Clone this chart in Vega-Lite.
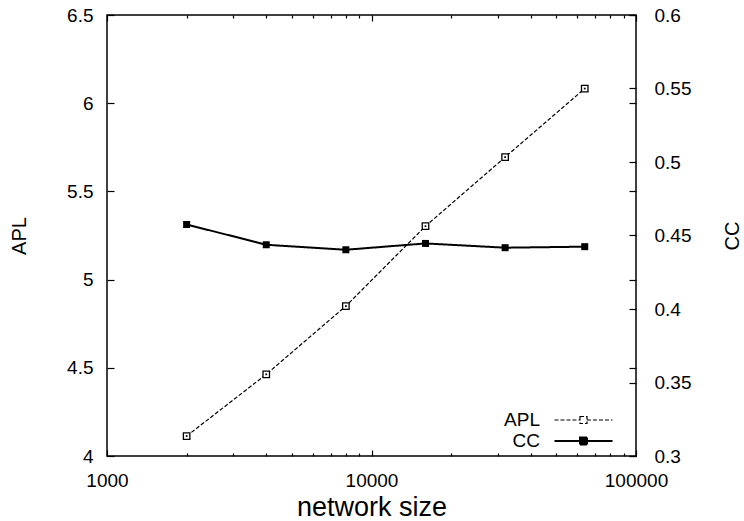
{
  "$schema": "https://vega.github.io/schema/vega-lite/v6.json",
  "width": 529,
  "height": 441,
  "autosize": "none",
  "padding": {"left": 107, "top": 15, "right": 108, "bottom": 65},
  "background": "white",
  "config": {
    "font": "Liberation Sans",
    "view": {"stroke": "black", "strokeWidth": 1.5},
    "axis": {"grid": false, "domain": false, "labelFlush": false, "tickColor": "black", "tickWidth": 1.2, "labelColor": "black", "titleColor": "black", "labelFontSize": 19, "titleFontSize": 20, "titleFontWeight": "normal", "labelFont": "Liberation Sans", "titleFont": "Liberation Sans"},
    "legend": {
      "orient": "none", "legendX": 467, "legendY": 395.5, "title": null, "padding": 0,
      "symbolType": "M-5.8,0H-0.7M0.7,0H5.8M-0.7,-0.7H0.7V0.7H-0.7Z",
      "symbolSize": 100, "symbolStrokeColor": "black", "symbolStrokeWidth": 1.2,
      "labelFontSize": 19, "labelFont": "Liberation Sans", "labelColor": "black", "labelAlign": "right", "labelOffset": -53, "rowPadding": 1
    }
  },
  "data": {
    "values": [
      {"size": 2000, "series": "APL", "value": 4.113},
      {"size": 4000, "series": "APL", "value": 4.463},
      {"size": 8000, "series": "APL", "value": 4.85},
      {"size": 16000, "series": "APL", "value": 5.303},
      {"size": 32000, "series": "APL", "value": 5.694},
      {"size": 64000, "series": "APL", "value": 6.083},
      {"size": 2000, "series": "CC", "value": 0.4575},
      {"size": 4000, "series": "CC", "value": 0.4437},
      {"size": 8000, "series": "CC", "value": 0.4403},
      {"size": 16000, "series": "CC", "value": 0.4446},
      {"size": 32000, "series": "CC", "value": 0.4417},
      {"size": 64000, "series": "CC", "value": 0.4424}
    ]
  },
  "layer": [
    {
      "transform": [{"filter": "datum.series === 'APL'"}],
      "layer": [
        {
          "mark": {"type": "line", "color": "black", "strokeWidth": 1.2},
          "encoding": {
            "x": {"field": "size", "type": "quantitative", "scale": {"type": "log", "domain": [1000, 100000], "nice": false},
              "axis": {"orient": "bottom", "values": [1000, 10000, 100000], "format": "d", "tickSize": -6, "labelPadding": 21, "title": "network size", "titleFontSize": 27, "titlePadding": 4}},
            "y": {"field": "value", "type": "quantitative", "scale": {"domain": [4, 6.5], "nice": false, "zero": false},
              "axis": {"orient": "left", "values": [4, 4.5, 5, 5.5, 6, 6.5], "format": ".2~f", "tickSize": -7, "labelPadding": 21, "title": "APL", "titlePadding": 37}},
            "strokeDash": {"field": "series", "type": "nominal", "scale": {"domain": ["APL", "CC"], "range": [[4, 2], [1, 0]]},
              "legend": {"encode": {"symbols": {"update": {"fill": {"signal": "datum.value === 'CC' ? 'black' : 'white'"}, "strokeWidth": {"signal": "datum.value === 'CC' ? 2 : 1.2"}, "stroke": {"value": "black"}}}}}}
          }
        },
        {
          "mark": {"type": "point", "shape": "square", "size": 42, "filled": true, "fill": "white", "stroke": "black", "strokeWidth": 1.3, "opacity": 1},
          "encoding": {
            "x": {"field": "size", "type": "quantitative", "axis": null},
            "y": {"field": "value", "type": "quantitative", "axis": null}
          }
        },
        {
          "mark": {"type": "point", "shape": "square", "size": 3, "filled": true, "color": "black", "opacity": 1},
          "encoding": {
            "x": {"field": "size", "type": "quantitative", "axis": null},
            "y": {"field": "value", "type": "quantitative", "axis": null}
          }
        },
        {
          "mark": {"type": "point", "opacity": 0},
          "encoding": {
            "x": {"field": "size", "type": "quantitative",
              "axis": {"orient": "bottom", "values": [2000, 3000, 4000, 5000, 6000, 7000, 8000, 9000, 20000, 30000, 40000, 50000, 60000, 70000, 80000, 90000], "labels": false, "tickSize": -3, "title": null}},
            "y": {"field": "value", "type": "quantitative",
              "axis": {"orient": "right", "values": [4, 4.5, 5, 5.5, 6, 6.5], "labels": false, "tickSize": -7, "title": null}}
          }
        },
        {
          "mark": {"type": "point", "opacity": 0},
          "encoding": {
            "x": {"field": "size", "type": "quantitative",
              "axis": {"orient": "top", "values": [1000, 10000, 100000], "labels": false, "tickSize": -6, "title": null}}
          }
        },
        {
          "mark": {"type": "point", "opacity": 0},
          "encoding": {
            "x": {"field": "size", "type": "quantitative",
              "axis": {"orient": "top", "values": [2000, 3000, 4000, 5000, 6000, 7000, 8000, 9000, 20000, 30000, 40000, 50000, 60000, 70000, 80000, 90000], "labels": false, "tickSize": -3, "title": null}}
          }
        }
      ],
      "resolve": {"axis": {"x": "independent", "y": "independent"}}
    },
    {
      "transform": [{"filter": "datum.series === 'CC'"}],
      "layer": [
        {
          "mark": {"type": "line", "color": "black", "strokeWidth": 2},
          "encoding": {
            "x": {"field": "size", "type": "quantitative", "axis": null},
            "y": {"field": "value", "type": "quantitative", "scale": {"domain": [0.3, 0.6], "nice": false, "zero": false},
              "axis": {"orient": "right", "values": [0.3, 0.35, 0.4, 0.45, 0.5, 0.55, 0.6], "format": ".2~f", "tickSize": -7, "labelPadding": 25, "title": "CC", "titleAngle": -90, "titlePadding": 52}},
            "strokeDash": {"field": "series", "type": "nominal", "scale": {"domain": ["APL", "CC"], "range": [[4, 2], [1, 0]]},
              "legend": {"encode": {"symbols": {"update": {"fill": {"signal": "datum.value === 'CC' ? 'black' : 'white'"}, "strokeWidth": {"signal": "datum.value === 'CC' ? 2 : 1.2"}, "stroke": {"value": "black"}}}}}}
          }
        },
        {
          "mark": {"type": "point", "shape": "square", "size": 49, "filled": true, "color": "black", "opacity": 1},
          "encoding": {
            "x": {"field": "size", "type": "quantitative"},
            "y": {"field": "value", "type": "quantitative"}
          }
        }
      ]
    }
  ],
  "resolve": {"scale": {"y": "independent"}, "axis": {"x": "independent", "y": "independent"}}
}
